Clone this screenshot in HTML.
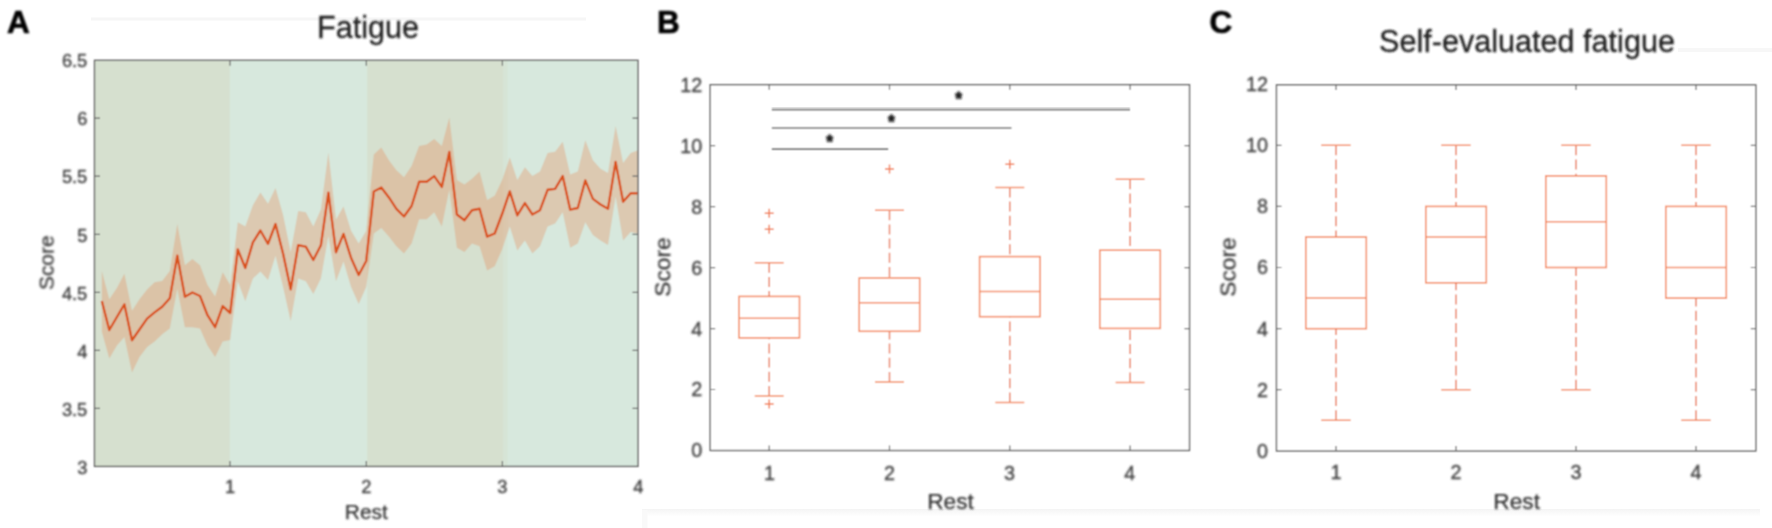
<!DOCTYPE html>
<html lang="en"><head><meta charset="utf-8"><title>Fatigue figure</title>
<style>
html,body{margin:0;padding:0;background:#fff;}
body{width:1772px;height:528px;overflow:hidden;}
svg{display:block;}
text{font-family:"Liberation Sans",Arial,Helvetica,sans-serif;filter:url(#bt);}
.tk{font-size:19.8px;fill:#404040;stroke:#404040;stroke-width:0.35;}
.tka{font-size:18.3px;fill:#404040;stroke:#404040;stroke-width:0.35;}
.lba{font-size:20.9px;fill:#303030;stroke:#303030;stroke-width:0.25;}
.lb{font-size:22.7px;fill:#303030;stroke:#303030;stroke-width:0.25;}
.ti{font-size:30.6px;fill:#1c1c1c;stroke:#1c1c1c;stroke-width:0.3;}
.pn{font-size:31.5px;font-weight:bold;fill:#000;stroke:#000;stroke-width:0.7;}
</style></head><body>
<svg width="1772" height="528" viewBox="0 0 1772 528">
 <defs><linearGradient id="fg" x1="0" y1="0" x2="0" y2="1"><stop offset="0" stop-color="#f4f4f4"/><stop offset="1" stop-color="#ffffff"/></linearGradient><filter id="bl" x="-5%" y="-5%" width="110%" height="110%"><feConvolveMatrix order="3" kernelMatrix="1 2 1 2 4 2 1 2 1" divisor="16" edgeMode="duplicate" preserveAlpha="false"/></filter><filter id="bt" x="-20%" y="-20%" width="140%" height="140%"><feGaussianBlur stdDeviation="0.85"/></filter></defs>
<rect x="0" y="0" width="1772" height="528" fill="#ffffff"/>

<rect x="91" y="17.5" width="495" height="3" fill="#f6f6f6"/>
<rect x="642" y="509" width="1118" height="7.5" fill="url(#fg)"/>
<rect x="1678" y="48" width="94" height="4" fill="#f7f7f7"/>
<rect x="642" y="510" width="5.5" height="18" fill="#f9f9f9"/>
<g>
<g filter="url(#bl)">
<rect x="94.5" y="60.3" width="543.5" height="406.1" fill="#d6e0cf"/>
<rect x="229.8" y="60.3" width="137.4" height="406.1" fill="#d7e8dd"/>
<rect x="503.0" y="60.3" width="135.0" height="406.1" fill="#d7e8dd"/>
<rect x="503" y="60.3" width="4.5" height="406.1" fill="#d6e4d6"/>
<clipPath id="ca"><rect x="94.5" y="60.3" width="543.5" height="406.09999999999997"/></clipPath>
<g clip-path="url(#ca)"><polygon points="101.8,270.9 109.3,299.3 116.9,288.0 124.4,273.8 132.0,310.7 139.5,299.3 147.1,289.4 154.6,282.3 162.2,280.9 169.8,270.9 177.3,224.0 184.9,265.2 192.4,259.0 200.0,265.2 207.5,285.1 215.1,296.5 222.7,272.3 230.2,285.1 237.8,222.2 245.3,226.5 252.9,205.2 260.4,192.4 268.0,203.8 275.5,188.1 283.1,215.1 290.7,252.1 298.2,210.9 305.8,212.3 313.3,226.5 320.9,209.4 328.4,152.6 336.0,219.4 343.5,206.6 351.1,230.7 358.7,243.5 366.2,230.7 373.8,154.6 381.3,147.4 388.9,160.2 396.4,170.2 404.0,177.3 411.6,165.9 419.1,146.0 426.7,144.6 434.2,138.9 441.8,146.0 449.3,117.6 456.9,180.1 464.4,184.4 472.0,178.7 479.6,171.6 487.1,200.0 494.7,195.7 502.2,180.1 509.8,157.4 517.3,180.1 524.9,167.3 532.4,175.9 540.0,171.6 547.6,153.1 555.1,151.7 562.7,141.8 570.2,174.4 577.8,171.6 585.3,140.3 592.9,160.2 600.5,168.8 608.0,173.0 615.6,126.1 623.1,163.1 630.7,153.1 638.2,150.3 638.2,233.5 630.7,232.1 623.1,240.6 615.6,196.6 608.0,244.9 600.5,240.6 592.9,235.0 585.3,222.2 577.8,243.5 570.2,247.7 562.7,212.2 555.1,223.6 547.6,226.4 540.0,246.3 532.4,253.4 524.9,240.6 517.3,250.6 509.8,226.4 502.2,249.2 494.7,266.2 487.1,270.5 479.6,246.3 472.0,243.5 464.4,252.0 456.9,247.7 449.3,189.5 441.8,226.4 434.2,212.2 426.7,219.3 419.1,219.3 411.6,243.5 404.0,253.4 396.4,246.3 388.9,236.4 381.3,227.9 373.8,233.5 366.2,287.0 358.7,304.0 351.1,287.0 343.5,261.4 336.0,281.3 328.4,235.9 320.9,278.5 313.3,294.1 305.8,281.3 298.2,278.5 290.7,321.1 283.1,287.0 275.5,255.8 268.0,279.9 260.4,271.4 252.9,278.5 245.3,301.2 237.8,281.3 230.2,340.0 222.7,341.4 215.1,357.0 207.5,345.6 200.0,328.6 192.4,327.2 184.9,327.2 177.3,288.8 169.8,328.6 162.2,334.3 154.6,341.4 147.1,347.1 139.5,357.0 132.0,372.6 124.4,337.1 116.9,345.6 109.3,358.4 101.8,331.4" fill="#ec6c2e" fill-opacity="0.25"/>
<polyline points="101.8,301.0 109.3,330.0 116.9,317.0 124.4,304.4 132.0,340.2 139.5,329.5 147.1,318.6 154.6,312.4 162.2,306.7 169.8,298.2 177.3,255.6 184.9,296.8 192.4,292.5 200.0,296.0 207.5,315.2 215.1,327.2 222.7,306.1 230.2,313.0 237.8,249.5 245.3,268.0 252.9,242.4 260.4,230.5 268.0,243.8 275.5,224.0 283.1,253.8 290.7,289.3 298.2,245.2 305.8,246.6 313.3,260.0 320.9,245.2 328.4,192.7 336.0,252.3 343.5,233.9 351.1,258.0 358.7,275.0 366.2,261.0 373.8,191.5 381.3,187.5 388.9,197.4 396.4,208.8 404.0,216.5 411.6,206.0 419.1,181.8 426.7,181.8 434.2,176.1 441.8,186.9 449.3,152.0 456.9,214.5 464.4,220.2 472.0,210.2 479.6,208.8 487.1,236.6 494.7,233.5 502.2,213.8 509.8,191.4 517.3,215.3 524.9,203.1 532.4,214.5 540.0,210.2 547.6,189.8 555.1,188.9 562.7,176.1 570.2,209.7 577.8,208.0 585.3,180.4 592.9,198.9 600.5,204.5 608.0,208.8 615.6,161.9 623.1,201.7 630.7,193.2 638.2,193.2" fill="none" stroke="#d9531e" stroke-width="2.4" stroke-linejoin="round"/></g>
<rect x="94.5" y="60.3" width="543.5" height="406.09999999999997" fill="none" stroke="#6a6a6a" stroke-width="1.45"/>
<path d="M230.0 466.4v-5.5M230.0 60.3v5.5" stroke="#6a6a6a" stroke-width="1.2"/>
<path d="M366.3 466.4v-5.5M366.3 60.3v5.5" stroke="#6a6a6a" stroke-width="1.2"/>
<path d="M502.4 466.4v-5.5M502.4 60.3v5.5" stroke="#6a6a6a" stroke-width="1.2"/>
<path d="M94.5 408.4h5.5M638.0 408.4h-5.5" stroke="#6a6a6a" stroke-width="1.2"/>
<path d="M94.5 350.3h5.5M638.0 350.3h-5.5" stroke="#6a6a6a" stroke-width="1.2"/>
<path d="M94.5 292.3h5.5M638.0 292.3h-5.5" stroke="#6a6a6a" stroke-width="1.2"/>
<path d="M94.5 234.3h5.5M638.0 234.3h-5.5" stroke="#6a6a6a" stroke-width="1.2"/>
<path d="M94.5 176.2h5.5M638.0 176.2h-5.5" stroke="#6a6a6a" stroke-width="1.2"/>
<path d="M94.5 118.2h5.5M638.0 118.2h-5.5" stroke="#6a6a6a" stroke-width="1.2"/>
</g>
<text class="tka" x="87.3" y="473.6" text-anchor="end">3</text>
<text class="tka" x="87.3" y="415.6" text-anchor="end">3.5</text>
<text class="tka" x="87.3" y="357.5" text-anchor="end">4</text>
<text class="tka" x="87.3" y="299.5" text-anchor="end">4.5</text>
<text class="tka" x="87.3" y="241.5" text-anchor="end">5</text>
<text class="tka" x="87.3" y="183.4" text-anchor="end">5.5</text>
<text class="tka" x="87.3" y="125.4" text-anchor="end">6</text>
<text class="tka" x="87.3" y="67.4" text-anchor="end">6.5</text>
<text class="tka" x="230.0" y="493.0" text-anchor="middle">1</text>
<text class="tka" x="366.3" y="493.0" text-anchor="middle">2</text>
<text class="tka" x="502.4" y="493.0" text-anchor="middle">3</text>
<text class="tka" x="638.3" y="493.0" text-anchor="middle">4</text>
<text class="lba" x="366.3" y="519.4" text-anchor="middle">Rest</text>
<text class="lba" transform="translate(53.6,262.7) rotate(-90)" text-anchor="middle">Score</text>
<text class="ti" x="368" y="37.5" text-anchor="middle">Fatigue</text>
<text class="pn" x="7" y="33">A</text>
<g filter="url(#bl)">
<rect x="710.2" y="84.7" width="479.29999999999995" height="365.8" fill="#fff" stroke="#6a6a6a" stroke-width="1.45"/>
<path d="M769.2 450.5v-5M769.2 84.7v5" stroke="#6a6a6a" stroke-width="1.2"/>
<path d="M889.5 450.5v-5M889.5 84.7v5" stroke="#6a6a6a" stroke-width="1.2"/>
<path d="M1009.8 450.5v-5M1009.8 84.7v5" stroke="#6a6a6a" stroke-width="1.2"/>
<path d="M1130.1 450.5v-5M1130.1 84.7v5" stroke="#6a6a6a" stroke-width="1.2"/>
<path d="M710.2 389.5h5M1189.5 389.5h-5" stroke="#6a6a6a" stroke-width="1.2"/>
<path d="M710.2 328.6h5M1189.5 328.6h-5" stroke="#6a6a6a" stroke-width="1.2"/>
<path d="M710.2 267.6h5M1189.5 267.6h-5" stroke="#6a6a6a" stroke-width="1.2"/>
<path d="M710.2 206.7h5M1189.5 206.7h-5" stroke="#6a6a6a" stroke-width="1.2"/>
<path d="M710.2 145.7h5M1189.5 145.7h-5" stroke="#6a6a6a" stroke-width="1.2"/>
<rect x="739.0" y="296.4" width="60.5" height="41.5" fill="none" stroke="#f48e64" stroke-width="1.6"/>
<path d="M739.0 318.3h60.5" stroke="#f48e64" stroke-width="1.5"/>
<path d="M769.2 262.7V296.4" stroke="#ea8060" stroke-width="1.5" stroke-dasharray="10 4.2"/>
<path d="M769.2 396.0V337.9" stroke="#ea8060" stroke-width="1.5" stroke-dasharray="10 4.2"/>
<path d="M754.7 262.7h29M754.7 396.0h29" stroke="#f48e64" stroke-width="1.5"/>
<rect x="859.2" y="278.0" width="60.5" height="53.3" fill="none" stroke="#f48e64" stroke-width="1.6"/>
<path d="M859.2 302.8h60.5" stroke="#f48e64" stroke-width="1.5"/>
<path d="M889.5 210.2V278.0" stroke="#ea8060" stroke-width="1.5" stroke-dasharray="10 4.2"/>
<path d="M889.5 382.0V331.3" stroke="#ea8060" stroke-width="1.5" stroke-dasharray="10 4.2"/>
<path d="M875.0 210.2h29M875.0 382.0h29" stroke="#f48e64" stroke-width="1.5"/>
<rect x="979.6" y="256.6" width="60.5" height="60.1" fill="none" stroke="#f48e64" stroke-width="1.6"/>
<path d="M979.6 291.6h60.5" stroke="#f48e64" stroke-width="1.5"/>
<path d="M1009.8 187.4V256.6" stroke="#ea8060" stroke-width="1.5" stroke-dasharray="10 4.2"/>
<path d="M1009.8 402.5V316.7" stroke="#ea8060" stroke-width="1.5" stroke-dasharray="10 4.2"/>
<path d="M995.3 187.4h29M995.3 402.5h29" stroke="#f48e64" stroke-width="1.5"/>
<rect x="1099.8" y="250.2" width="60.5" height="78.2" fill="none" stroke="#f48e64" stroke-width="1.6"/>
<path d="M1099.8 299.3h60.5" stroke="#f48e64" stroke-width="1.5"/>
<path d="M1130.1 179.2V250.2" stroke="#ea8060" stroke-width="1.5" stroke-dasharray="10 4.2"/>
<path d="M1130.1 382.5V328.4" stroke="#ea8060" stroke-width="1.5" stroke-dasharray="10 4.2"/>
<path d="M1115.6 179.2h29M1115.6 382.5h29" stroke="#f48e64" stroke-width="1.5"/>
<path d="M764.7 213.3h9M769.2 208.8v9" stroke="#f28058" stroke-width="1.5"/>
<path d="M764.7 229.2h9M769.2 224.7v9" stroke="#f28058" stroke-width="1.5"/>
<path d="M764.7 404.0h9M769.2 399.5v9" stroke="#f28058" stroke-width="1.5"/>
<path d="M885.0 169.1h9M889.5 164.6v9" stroke="#f28058" stroke-width="1.5"/>
<path d="M1005.3 164.3h9M1009.8 159.8v9" stroke="#f28058" stroke-width="1.5"/>
</g>
<g filter="url(#bl)">
<path d="M771.8 109.7H1130M771.8 128H1011.5M771.8 149.2H888.2" stroke="#808080" stroke-width="1.7"/>
</g>
<text x="958.7" y="104.6" text-anchor="middle" style="font-size:17.5px;font-weight:bold;fill:#1a1a1a;stroke:#1a1a1a;stroke-width:0.8">*</text>
<text x="891.3" y="128.0" text-anchor="middle" style="font-size:17.5px;font-weight:bold;fill:#1a1a1a;stroke:#1a1a1a;stroke-width:0.8">*</text>
<text x="829.7" y="147.9" text-anchor="middle" style="font-size:17.5px;font-weight:bold;fill:#1a1a1a;stroke:#1a1a1a;stroke-width:0.8">*</text>
<text class="tk" x="702.2" y="457.4" text-anchor="end">0</text>
<text class="tk" x="702.2" y="396.4" text-anchor="end">2</text>
<text class="tk" x="702.2" y="335.5" text-anchor="end">4</text>
<text class="tk" x="702.2" y="274.5" text-anchor="end">6</text>
<text class="tk" x="702.2" y="213.6" text-anchor="end">8</text>
<text class="tk" x="702.2" y="152.6" text-anchor="end">10</text>
<text class="tk" x="702.2" y="91.6" text-anchor="end">12</text>
<text class="tk" x="769.4" y="479.8" text-anchor="middle">1</text>
<text class="tk" x="889.5" y="479.8" text-anchor="middle">2</text>
<text class="tk" x="1009.6" y="479.8" text-anchor="middle">3</text>
<text class="tk" x="1129.7" y="479.8" text-anchor="middle">4</text>
<text class="lb" x="950.5" y="509.2" text-anchor="middle">Rest</text>
<text class="lb" transform="translate(670.2,267) rotate(-90)" text-anchor="middle">Score</text>
<text class="pn" x="657" y="32.6">B</text>
<g filter="url(#bl)">
<rect x="1276.5" y="84.9" width="479.29999999999995" height="366.1" fill="#fff" stroke="#6a6a6a" stroke-width="1.45"/>
<path d="M1336.0 451v-5M1336.0 84.9v5" stroke="#6a6a6a" stroke-width="1.2"/>
<path d="M1456.0 451v-5M1456.0 84.9v5" stroke="#6a6a6a" stroke-width="1.2"/>
<path d="M1576.0 451v-5M1576.0 84.9v5" stroke="#6a6a6a" stroke-width="1.2"/>
<path d="M1696.0 451v-5M1696.0 84.9v5" stroke="#6a6a6a" stroke-width="1.2"/>
<path d="M1276.5 389.7h5M1755.8 389.7h-5" stroke="#6a6a6a" stroke-width="1.2"/>
<path d="M1276.5 328.6h5M1755.8 328.6h-5" stroke="#6a6a6a" stroke-width="1.2"/>
<path d="M1276.5 267.5h5M1755.8 267.5h-5" stroke="#6a6a6a" stroke-width="1.2"/>
<path d="M1276.5 206.4h5M1755.8 206.4h-5" stroke="#6a6a6a" stroke-width="1.2"/>
<path d="M1276.5 145.3h5M1755.8 145.3h-5" stroke="#6a6a6a" stroke-width="1.2"/>
<rect x="1305.8" y="237.0" width="60.5" height="91.7" fill="none" stroke="#f48e64" stroke-width="1.6"/>
<path d="M1305.8 298.1h60.5" stroke="#f48e64" stroke-width="1.5"/>
<path d="M1336.0 145.3V237.0" stroke="#ea8060" stroke-width="1.5" stroke-dasharray="10 4.2"/>
<path d="M1336.0 420.2V328.6" stroke="#ea8060" stroke-width="1.5" stroke-dasharray="10 4.2"/>
<path d="M1321.2 145.3h29.5M1321.2 420.2h29.5" stroke="#f48e64" stroke-width="1.5"/>
<rect x="1425.8" y="206.4" width="60.5" height="76.4" fill="none" stroke="#f48e64" stroke-width="1.6"/>
<path d="M1425.8 237.0h60.5" stroke="#f48e64" stroke-width="1.5"/>
<path d="M1456.0 145.3V206.4" stroke="#ea8060" stroke-width="1.5" stroke-dasharray="10 4.2"/>
<path d="M1456.0 389.7V282.8" stroke="#ea8060" stroke-width="1.5" stroke-dasharray="10 4.2"/>
<path d="M1441.2 145.3h29.5M1441.2 389.7h29.5" stroke="#f48e64" stroke-width="1.5"/>
<rect x="1545.8" y="175.9" width="60.5" height="91.6" fill="none" stroke="#f48e64" stroke-width="1.6"/>
<path d="M1545.8 221.7h60.5" stroke="#f48e64" stroke-width="1.5"/>
<path d="M1576.0 145.3V175.9" stroke="#ea8060" stroke-width="1.5" stroke-dasharray="10 4.2"/>
<path d="M1576.0 389.7V267.5" stroke="#ea8060" stroke-width="1.5" stroke-dasharray="10 4.2"/>
<path d="M1561.2 145.3h29.5M1561.2 389.7h29.5" stroke="#f48e64" stroke-width="1.5"/>
<rect x="1665.8" y="206.4" width="60.5" height="91.7" fill="none" stroke="#f48e64" stroke-width="1.6"/>
<path d="M1665.8 267.5h60.5" stroke="#f48e64" stroke-width="1.5"/>
<path d="M1696.0 145.3V206.4" stroke="#ea8060" stroke-width="1.5" stroke-dasharray="10 4.2"/>
<path d="M1696.0 420.2V298.1" stroke="#ea8060" stroke-width="1.5" stroke-dasharray="10 4.2"/>
<path d="M1681.2 145.3h29.5M1681.2 420.2h29.5" stroke="#f48e64" stroke-width="1.5"/>
</g>
<text class="tk" x="1268" y="457.7" text-anchor="end">0</text>
<text class="tk" x="1268" y="396.6" text-anchor="end">2</text>
<text class="tk" x="1268" y="335.5" text-anchor="end">4</text>
<text class="tk" x="1268" y="274.4" text-anchor="end">6</text>
<text class="tk" x="1268" y="213.3" text-anchor="end">8</text>
<text class="tk" x="1268" y="152.2" text-anchor="end">10</text>
<text class="tk" x="1268" y="91.1" text-anchor="end">12</text>
<text class="tk" x="1336.0" y="479.3" text-anchor="middle">1</text>
<text class="tk" x="1456.0" y="479.3" text-anchor="middle">2</text>
<text class="tk" x="1576.0" y="479.3" text-anchor="middle">3</text>
<text class="tk" x="1696.0" y="479.3" text-anchor="middle">4</text>
<text class="lb" x="1516.7" y="508.9" text-anchor="middle">Rest</text>
<text class="lb" transform="translate(1235.5,267) rotate(-90)" text-anchor="middle">Score</text>
<text class="ti" x="1527" y="51.6" text-anchor="middle">Self-evaluated fatigue</text>
<text class="pn" x="1209.5" y="33.2">C</text>
</g></svg></body></html>
